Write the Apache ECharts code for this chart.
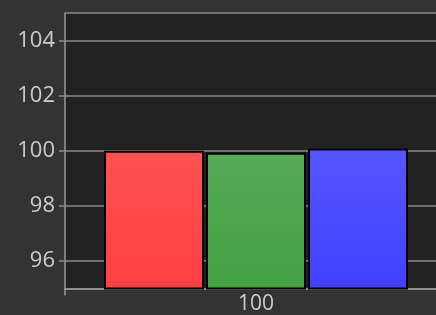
<!DOCTYPE html>
<html>
<head>
<meta charset="utf-8">
<script src="https://cdn.jsdelivr.net/npm/echarts@6/dist/echarts.min.js"></script>
<style>
html, body { margin: 0; padding: 0; background: #333333; }
#chart { width: 436px; height: 315px; }
</style>
</head>
<body>
<div id="chart"></div>
<script>
// data
var categories = ['100'];
var redValues = [100.0];
var greenValues = [99.93];
var blueValues = [100.08];
var yMin = 95;
var yMax = 105;

function grad(top, bottom) {
  return new echarts.graphic.LinearGradient(0, 0, 0, 1, [
    { offset: 0, color: top },
    { offset: 1, color: bottom }
  ]);
}

function barSeries(name, values, top, bottom) {
  return {
    name: name,
    type: 'bar',
    data: values,
    barWidth: 100,
    barGap: '2%',
    itemStyle: {
      color: grad(top, bottom),
      borderColor: '#000',
      borderWidth: 2
    }
  };
}

var chart = echarts.init(document.getElementById('chart'));
chart.setOption({
  backgroundColor: '#333333',
  animation: false,
  grid: {
    left: 65, top: 13, height: 275.5, width: 382,
    outerBoundsMode: 'none',
    show: true,
    backgroundColor: '#222222',
    borderWidth: 0
  },
  xAxis: {
    type: 'category',
    data: categories,
    axisLine: { lineStyle: { color: '#9a9a9a', width: 1.5 } },
    axisTick: { show: true, length: 7, lineStyle: { color: '#9a9a9a', width: 1.5 } },
    axisLabel: { color: '#cccccc', fontSize: 21, margin: 5, fontFamily: 'Open Sans' }
  },
  yAxis: {
    type: 'value',
    min: yMin,
    max: yMax,
    splitNumber: 5,
    axisLine: { show: true, lineStyle: { color: '#9a9a9a', width: 1.5 } },
    axisTick: { show: true, length: 6, lineStyle: { color: '#8a8a8a', width: 1.5 } },
    axisLabel: {
      color: '#cccccc', fontSize: 22, margin: 10, fontFamily: 'Open Sans',
      showMinLabel: false, showMaxLabel: false
    },
    splitLine: { show: true, lineStyle: { color: '#8a8a8a', width: 1.5 } }
  },
  series: [
    barSeries('red', redValues, '#ff5252', '#ff4040'),
    barSeries('green', greenValues, '#58aa58', '#42a042'),
    barSeries('blue', blueValues, '#5656ff', '#4040ff')
  ]
});
</script>
</body>
</html>
